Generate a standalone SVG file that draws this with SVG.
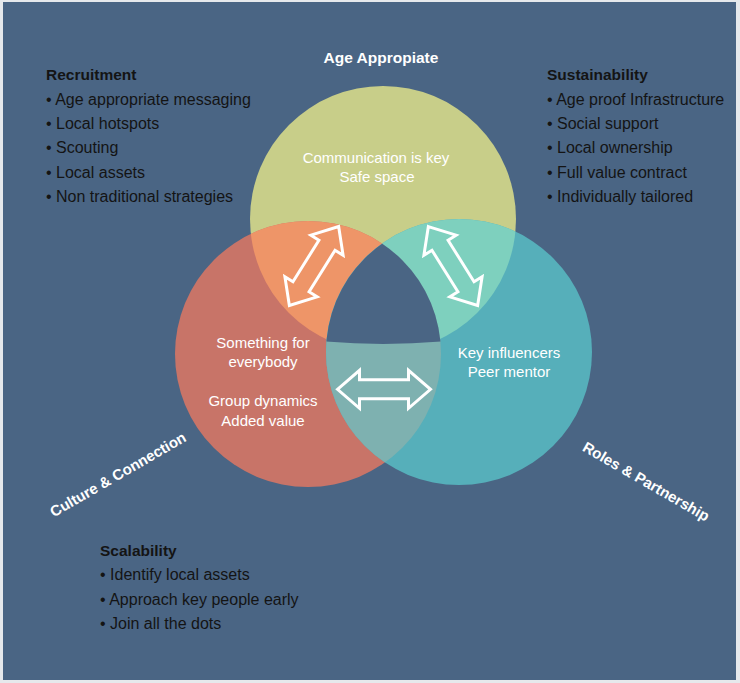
<svg xmlns="http://www.w3.org/2000/svg" width="740" height="683" viewBox="0 0 740 683">
<style>
.h{font-family:"Liberation Sans",Arial,sans-serif;font-weight:bold;font-size:15.5px;fill:#141414}
.b{font-family:"Liberation Sans",Arial,sans-serif;font-size:16px;fill:#141414}
.w{font-family:"Liberation Sans",Arial,sans-serif;font-size:15px;fill:#ffffff;text-anchor:middle}
.wb{font-family:"Liberation Sans",Arial,sans-serif;font-weight:bold;font-size:15px;fill:#ffffff;text-anchor:middle}
.arrow{fill:none;stroke:#ffffff;stroke-width:3;stroke-linejoin:miter}
</style>
<defs>
<clipPath id="cRed"><circle cx="308" cy="354" r="133"/></clipPath>
<clipPath id="cYellow"><circle cx="383" cy="219" r="133"/></clipPath>
<clipPath id="cTeal"><circle cx="459" cy="352" r="133"/></clipPath>
<path id="arr" d="M-46.5,0 L-24.5,-19 L-24.5,-9.5 L24.5,-9.5 L24.5,-19 L46.5,0 L24.5,19 L24.5,9.5 L-24.5,9.5 L-24.5,19 Z"/>
</defs>
<rect x="0" y="0" width="740" height="683" fill="#e6e9ec"/>
<rect x="3" y="2" width="733" height="678" fill="#4a6584"/>

<g id="circle-age-appropriate">
<circle cx="383" cy="219" r="133" fill="#c8ce89"/>
</g>
<g id="circle-culture-connection">
<circle cx="308" cy="354" r="133" fill="#c87468"/>
</g>
<g id="circle-roles-partnership">
<circle cx="459" cy="352" r="133" fill="#56afba"/>
</g>
<g id="overlaps">
<circle cx="383" cy="219" r="133" fill="#ee9568" clip-path="url(#cRed)"/>
<circle cx="383" cy="219" r="133" fill="#7ed0be" clip-path="url(#cTeal)"/>
<circle cx="308" cy="354" r="133" fill="#7eb1b0" clip-path="url(#cTeal)"/>
<g clip-path="url(#cTeal)">
<path d="M290,200 L480,200 L480,337.4 Q383,350.4 290,337.6 Z" fill="#4a6584" clip-path="url(#cRed)"/>
</g>
</g>

<g id="connectors">
<use href="#arr" class="arrow" transform="translate(384,389.3)"/>
<use href="#arr" class="arrow" transform="translate(314,266) rotate(-58)"/>
<use href="#arr" class="arrow" transform="translate(453,266) rotate(58)"/>
</g>

<g id="label-age-appropriate">
<text class="wb" x="381" y="63" style="font-size:15.5px">Age Appropiate</text>
<text class="w" x="376" y="163">Communication is key</text>
<text class="w" x="377" y="182">Safe space</text>
</g>
<g id="label-culture-connection">
<text class="w" x="263" y="348">Something for</text>
<text class="w" x="263" y="367">everybody</text>
<text class="w" x="263" y="406">Group dynamics</text>
<text class="w" x="263" y="426">Added value</text>
<text class="wb" transform="translate(120.5,479) rotate(-30)">Culture &amp; Connection</text>
</g>
<g id="label-roles-partnership">
<text class="w" x="509" y="358">Key influencers</text>
<text class="w" x="509" y="377">Peer mentor</text>
<text class="wb" transform="translate(643.5,486) rotate(30)">Roles &amp; Partnership</text>
</g>

<g id="recruitment">
<text class="h" x="46" y="80">Recruitment</text>
<text class="b" x="46" y="104.5">• Age appropriate messaging</text>
<text class="b" x="46" y="128.9">• Local hotspots</text>
<text class="b" x="46" y="153.3">• Scouting</text>
<text class="b" x="46" y="177.7">• Local assets</text>
<text class="b" x="46" y="202.1">• Non traditional strategies</text>
</g>
<g id="sustainability">
<text class="h" x="547" y="80">Sustainability</text>
<text class="b" x="547" y="104.5">• Age proof Infrastructure</text>
<text class="b" x="547" y="128.9">• Social support</text>
<text class="b" x="547" y="153.3">• Local ownership</text>
<text class="b" x="547" y="177.7">• Full value contract</text>
<text class="b" x="547" y="202.1">• Individually tailored</text>
</g>
<g id="scalability">
<text class="h" x="100" y="555.5">Scalability</text>
<text class="b" x="100" y="580.3">• Identify local assets</text>
<text class="b" x="100" y="604.7">• Approach key people early</text>
<text class="b" x="100" y="629.1">• Join all the dots</text>
</g>
</svg>
